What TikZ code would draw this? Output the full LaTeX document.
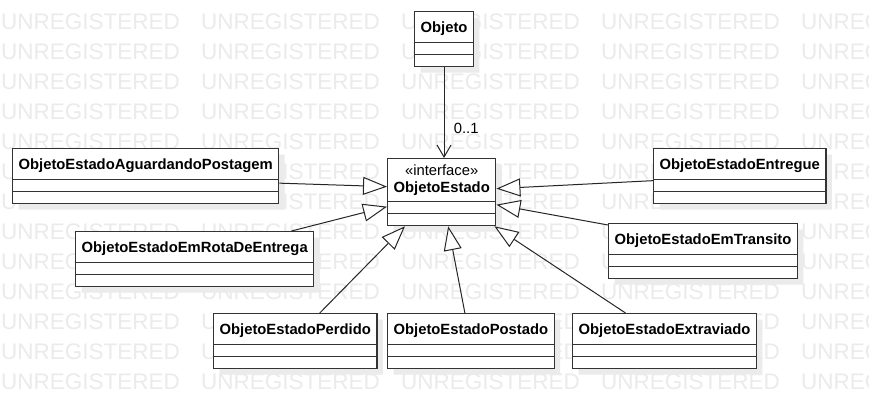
\documentclass[tikz,border=0pt]{standalone}
\usepackage{fontspec}
\setmainfont{Liberation Sans}
\usetikzlibrary{arrows.meta,positioning,shadows,shapes.multipart}

\tikzset{
  cls/.style={draw=black!80, line width=1.2pt, fill=white, anchor=north west,
    rectangle split, rectangle split parts=3,
    inner xsep=6pt, inner ysep=5.5pt, font=\fontsize{14.8}{16.7}\selectfont,
    drop shadow={shadow xshift=6pt, shadow yshift=-6pt, fill=black!8, opacity=1}},
  gen/.style={draw=black!85, line width=1pt, -{Triangle[fill=white, length=24pt, width=18pt]}},
  assoc/.style={draw=black!85, line width=1pt, -{Straight Barb[length=12pt, width=14pt]}},
  wm/.style={text=black!8, font=\fontsize{22.5}{22.5}\selectfont, inner sep=0pt, anchor=base west}
}
\newcommand{\hstrut}{\rule[-4pt]{0pt}{18.5pt}}
\newcommand{\nopart}{\rule{0.1pt}{0pt}}

\begin{document}
\begin{tikzpicture}[x=1pt, y=-1pt]
  \path[fill=white, use as bounding box] (0,0) rectangle (869,410);

  %watermark rows
  \begin{scope}
    \clip (0,0) rectangle (869,410);
    \foreach \r in {0,...,12}
      \foreach \c in {0,...,4}
        \node[wm] (wm-\r-\c) at (1+200*\c, 29+30*\r) {UNREGISTERED};
  \end{scope}

	\node[cls]		(objeto)	at (414, 11)	{\textbf{Objeto}\hstrut \nodepart{two}\nopart \nodepart{three}\nopart};
	\node[cls, align=center]	(estado)	at (387, 158)	{«interface»\\\textbf{ObjetoEstado} \nodepart{two}\nopart \nodepart{three}\nopart};
	\draw[assoc] (objeto.south) -- (objeto.south |- estado.north)
		node[pos=0.67, right=6pt, font=\fontsize{14.8}{16.7}\selectfont] (mult) {0..1};

	\node[cls]		(aguardando)	at (12, 148)	{\textbf{ObjetoEstadoAguardandoPostagem}\hstrut \nodepart{two}\nopart \nodepart{three}\nopart};
	\node[cls]		(emrota)	at (75, 231)	{\textbf{ObjetoEstadoEmRotaDeEntrega}\hstrut \nodepart{two}\nopart \nodepart{three}\nopart};
	\draw[gen] ([yshift=-7pt]aguardando.east) -- ([yshift=5.5pt]estado.west);
	\draw[gen] ([xshift=-23pt]emrota.north east) -- ([yshift=-14.5pt]estado.west);

	\node[cls]		(entregue)	at (653, 148)	{\textbf{ObjetoEstadoEntregue}\hstrut \nodepart{two}\nopart \nodepart{three}\nopart};
	\node[cls]		(emtransito)	at (608, 223)	{\textbf{ObjetoEstadoEmTransito}\hstrut \nodepart{two}\nopart \nodepart{three}\nopart};
	\draw[gen] ([yshift=-4.5pt]entregue.west) -- ([yshift=3.5pt]estado.east);
	\draw[gen] ([yshift=-2pt]emtransito.north west) -- ([yshift=-12.5pt]estado.east);

% 	bottom row
	\node[cls]		(perdido)	at (213, 313)	{\textbf{ObjetoEstadoPerdido}\hstrut \nodepart{two}\nopart \nodepart{three}\nopart};
	\node[cls]		(postado)	at (387, 313)	{\textbf{ObjetoEstadoPostado}\hstrut \nodepart{two}\nopart \nodepart{three}\nopart};
	\node[cls]		(extraviado)	at (572, 313)	{\textbf{ObjetoEstadoExtraviado}\hstrut \nodepart{two}\nopart \nodepart{three}\nopart};
	\draw[gen] ([xshift=24.5pt]perdido.north) -- ([xshift=18pt]estado.south west);
	\draw[gen] ([xshift=-6pt]postado.north) -- ([xshift=6.5pt]estado.south);
	\draw[gen] ([xshift=-39pt]extraviado.north) -- ([xshift=-2pt]estado.south east);
\end{tikzpicture}
\end{document}
